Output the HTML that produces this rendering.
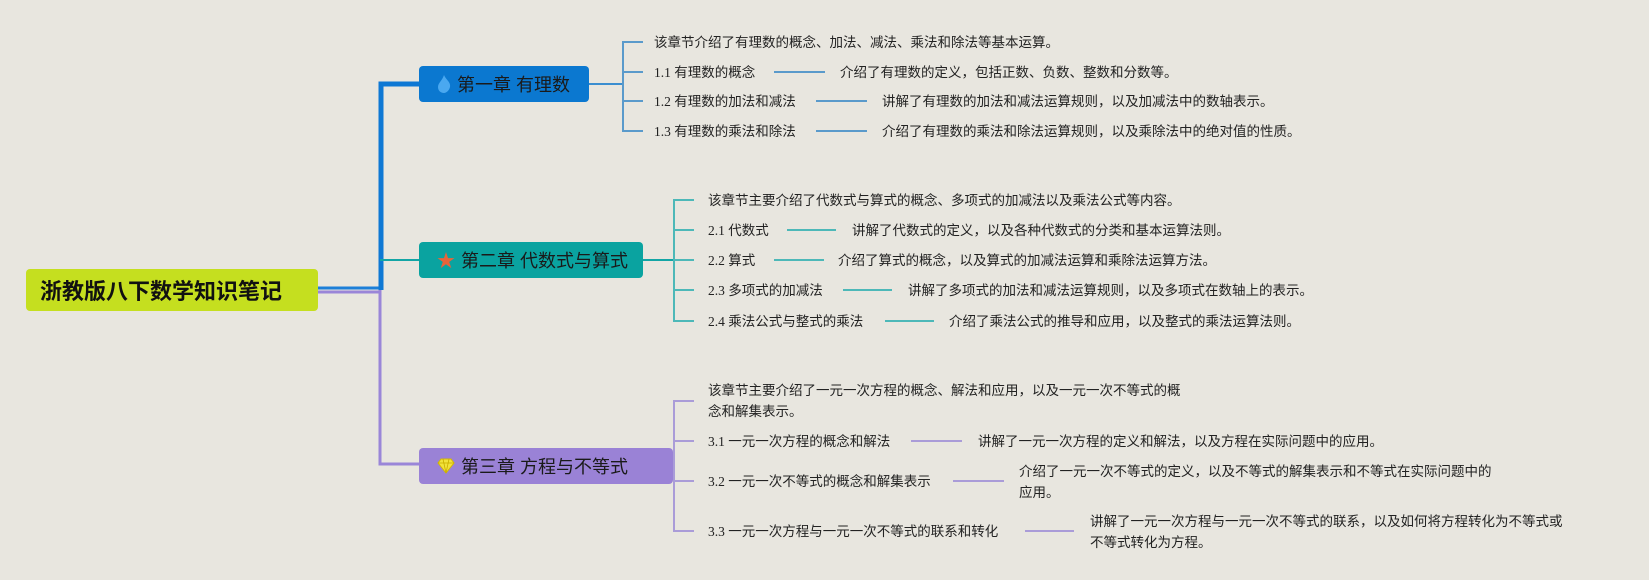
<!DOCTYPE html>
<html><head><meta charset="utf-8"><style>
body{margin:0;width:1649px;height:580px;background:#e8e6df;position:relative;overflow:hidden;font-family:"Liberation Sans","Noto Sans CJK SC",sans-serif;}
.t{position:absolute;font-size:13.5px;color:#222;white-space:nowrap;line-height:21px;font-family:"Liberation Serif","Noto Sans CJK SC",serif;}
.box{position:absolute;border-radius:4px;color:#1a1a1a;font-size:18px;display:flex;align-items:center;box-sizing:border-box;padding-left:18px;}
.box svg{margin-right:6px}
</style></head><body>
<svg width="1649" height="580" style="position:absolute;left:0;top:0">
<g fill="none">
<path d="M318 288 H379" stroke="#1c7fd8" stroke-width="3"/>
<path d="M318 292 H379" stroke="#9a86d8" stroke-width="3"/>
<path d="M381 290 V84 H419" stroke="#0e78d4" stroke-width="5"/>
<path d="M380 260 H419" stroke="#12a5a5" stroke-width="2"/>
<path d="M380 290 V464 H419" stroke="#9a86d8" stroke-width="3"/>
<path d="M589 84 H623" stroke="#3b8ed0" stroke-width="2"/>
<path d="M643 42 H623 V131 H643 M623 72 H643 M623 101 H643" stroke="#5a9acb" stroke-width="2"/>
<path d="M774 72 H825 M816 101 H867 M816 131 H867" stroke="#5a9acb" stroke-width="2"/>
<path d="M643 260 H674" stroke="#12a5a5" stroke-width="2"/>
<path d="M694 200 H674 V321 H694 M674 230 H694 M674 260 H694 M674 290 H694" stroke="#4db8b8" stroke-width="2"/>
<path d="M787 230 H836 M774 260 H824 M843 290 H892 M885 321 H934" stroke="#4db8b8" stroke-width="2"/>
<path d="M673 466 H674" stroke="#9a86d8" stroke-width="2"/>
<path d="M694 401 H674 V531 H694 M674 441 H694 M674 481 H694" stroke="#aa9cd8" stroke-width="2"/>
<path d="M911 441 H962 M953 481 H1004 M1025 531 H1074" stroke="#aa9cd8" stroke-width="2"/>
</g></svg>
<div class="box" style="left:26px;top:269px;width:292px;height:42px;background:#c5df1f;font-weight:bold;font-size:22px;color:#111;padding-left:14px">浙教版八下数学知识笔记</div>
<div class="box" style="left:419px;top:66px;width:170px;height:36px;background:#0b78d0;"><svg width="14" height="18" viewBox="0 0 14 18"><path d="M7 0 C9 5 14 7 13 12 C12 16 9 18 7 18 C4 18 1 16 1 12 C1 8 5 6 7 0Z" fill="#4aa8f0"/></svg>第一章 有理数</div>
<div class="box" style="left:419px;top:242px;width:224px;height:36px;background:#0aa3a0;"><span style="color:#e8643a;margin-right:6px">★</span>第二章 代数式与算式</div>
<div class="box" style="left:419px;top:448px;width:254px;height:36px;background:#9a82d6;"><svg width="18" height="16" viewBox="0 0 18 16"><path d="M4 1 H14 L17 5 L9 15 L1 5 Z" fill="#f2e23a" stroke="#d4b800" stroke-width="1"/><path d="M1 5 H17 M6 1 L9 15 L12 1" stroke="#c9ad00" fill="none" stroke-width="0.8"/></svg>第三章 方程与不等式</div>

<div class="t" style="left:654px;top:32px">该章节介绍了有理数的概念、加法、减法、乘法和除法等基本运算。</div>
<div class="t" style="left:654px;top:62px">1.1 有理数的概念</div>
<div class="t" style="left:840px;top:62px">介绍了有理数的定义，包括正数、负数、整数和分数等。</div>
<div class="t" style="left:654px;top:91px">1.2 有理数的加法和减法</div>
<div class="t" style="left:882px;top:91px">讲解了有理数的加法和减法运算规则，以及加减法中的数轴表示。</div>
<div class="t" style="left:654px;top:121px">1.3 有理数的乘法和除法</div>
<div class="t" style="left:882px;top:121px">介绍了有理数的乘法和除法运算规则，以及乘除法中的绝对值的性质。</div>

<div class="t" style="left:708px;top:190px">该章节主要介绍了代数式与算式的概念、多项式的加减法以及乘法公式等内容。</div>
<div class="t" style="left:708px;top:220px">2.1 代数式</div>
<div class="t" style="left:852px;top:220px">讲解了代数式的定义，以及各种代数式的分类和基本运算法则。</div>
<div class="t" style="left:708px;top:250px">2.2 算式</div>
<div class="t" style="left:838px;top:250px">介绍了算式的概念，以及算式的加减法运算和乘除法运算方法。</div>
<div class="t" style="left:708px;top:280px">2.3 多项式的加减法</div>
<div class="t" style="left:908px;top:280px">讲解了多项式的加法和减法运算规则，以及多项式在数轴上的表示。</div>
<div class="t" style="left:708px;top:311px">2.4 乘法公式与整式的乘法</div>
<div class="t" style="left:949px;top:311px">介绍了乘法公式的推导和应用，以及整式的乘法运算法则。</div>

<div class="t" style="left:708px;top:380px">该章节主要介绍了一元一次方程的概念、解法和应用，以及一元一次不等式的概<br>念和解集表示。</div>
<div class="t" style="left:708px;top:431px">3.1 一元一次方程的概念和解法</div>
<div class="t" style="left:978px;top:431px">讲解了一元一次方程的定义和解法，以及方程在实际问题中的应用。</div>
<div class="t" style="left:708px;top:471px">3.2 一元一次不等式的概念和解集表示</div>
<div class="t" style="left:1019px;top:461px">介绍了一元一次不等式的定义，以及不等式的解集表示和不等式在实际问题中的<br>应用。</div>
<div class="t" style="left:708px;top:521px">3.3 一元一次方程与一元一次不等式的联系和转化</div>
<div class="t" style="left:1090px;top:511px">讲解了一元一次方程与一元一次不等式的联系，以及如何将方程转化为不等式或<br>不等式转化为方程。</div>
</body></html>
